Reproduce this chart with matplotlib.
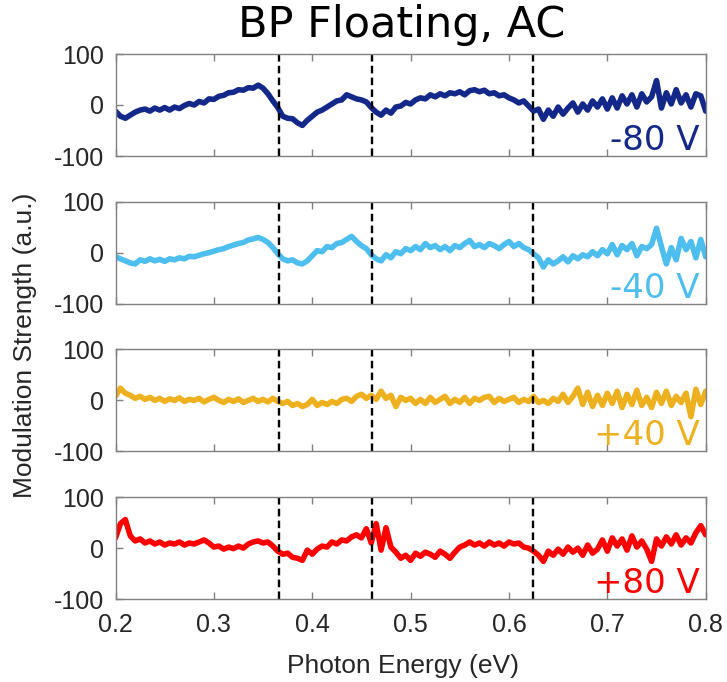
import numpy as np
import matplotlib.pyplot as plt

plt.rcParams["axes.unicode_minus"] = False

# =========================
# data (step 0.005 eV)
# =========================
energy = np.round(np.arange(0.2, 0.8001, 0.005), 3)

v_m80 = [-12, -22, -26, -20, -14, -10, -8, -12, -6, -10,
         -5, -10, -4, -7, -1, 3, 0, 7, 4, 12,
         11, 17, 19, 24, 25, 30, 29, 34, 33, 39,
         33, 22, 8, -5, -22, -26, -27, -35, -40, -30,
         -22, -14, -10, -4, 2, 8, 10, 20, 16, 12,
         10, 6, -5, -14, -20, -10, -16, -4, -2, 5,
         2, 10, 14, 12, 20, 16, 22, 18, 24, 22,
         26, 20, 28, 30, 26, 29, 22, 24, 18, 20,
         14, 10, 4, 8, -2, -12, -8, -28, -10, -22,
         -4, -18, -6, 4, -14, 2, -10, 8, -4, 12,
         -8, 14, -6, 18, 2, 20, -4, 22, 6, 16,
         48, -6, 24, 2, 30, 4, 20, -4, 22, 18,
         -12]

v_m40 = [-8, -12, -16, -20, -22, -14, -17, -12, -16, -13,
         -17, -12, -14, -10, -12, -7, -8, -5, -2, 0,
         3, 6, 8, 12, 15, 18, 20, 25, 27, 30,
         26, 20, 10, -2, -12, -16, -14, -20, -22, -16,
         -6, 4, 2, 12, 10, 18, 20, 26, 32, 22,
         14, 8, -4, -12, -16, -4, -10, 2, -2, 8,
         4, 12, 6, 18, 10, 14, 6, 12, 4, 14,
         10, 18, 24, 12, 16, 10, 18, 14, 8, 16,
         22, 12, 18, 10, 6, -2, -10, -28, -14, -22,
         -16, -8, -18, -6, -12, -4, -8, 2, -6, 6,
         -2, 16, -4, 14, 6, 18, -6, 12, 8, 16,
         48, 12, -22, 10, -14, 28, 6, 22, -10, 26,
         -8]

v_p40 = [8, 24, 14, 10, 4, 8, 2, 6, 0, 4,
         -2, 3, 0, 5, -2, 2, 0, 4, -3, 2,
         6, 0, -4, 2, -2, 3, -4, 0, 4, -2,
         2, -3, 4, -2, -6, -2, -10, -6, -12, -8,
         2, -10, -4, -8, -2, -6, 2, 4, -2, 8,
         12, 4, 10, 2, 18, 4, 10, -12, 6, 0,
         4, -6, 2, -6, 6, -4, 2, 8, -6, 2,
         -4, 6, -6, 4, 0, 6, 8, -4, 4, -2,
         2, 6, -4, 2, -2, 8, -4, 0, -6, 4,
         -2, 12, -4, 8, 24, -8, 16, -12, 10, -10,
         14, -6, 18, -14, 12, -8, 20, -10, 6, -14,
         16, -6, 18, -10, 8, -4, 14, -32, 22, -8,
         18]

v_p80 = [20, 48, 56, 24, 14, 18, 10, 14, 8, 12,
         6, 10, 8, 12, 6, 10, 8, 12, 16, 10,
         2, 4, -2, 2, -1, 4, 0, 8, 12, 14,
         10, 12, 4, -6, -12, -10, -18, -20, -24, -4,
         -12, -2, 4, 2, 12, 8, 16, 14, 22, 26,
         20, 38, 10, 48, -4, 40, 2, -8, -20, -14,
         -24, -10, -16, -8, -12, -18, -6, -12, -20, -8,
         2, 6, 12, 6, 10, 4, 12, 6, 10, 4,
         12, 8, 10, 2, 0, -6, -14, -26, -6, -14,
         -2, -12, 2, -8, 0, -14, 6, -10, -2, 16,
         -6, 20, 4, 18, -4, 24, 2, 14, -2, -26,
         18, 4, 22, 8, 26, 6, 20, 10, 30, 44,
         26]

series = [v_m80, v_m40, v_p40, v_p80]
labels = ["-80 V", "-40 V", "+40 V", "+80 V"]
colors = ["#14288A", "#4DBEEE", "#EDB120", "#FF0000"]
dashed_x = [0.366, 0.461, 0.624]

# =========================
# figure
# =========================
W, H = 727, 682
fig = plt.figure(figsize=(W / 100, H / 100), dpi=100)

tick_font = "Liberation Sans"
gray = "#808080"

left = 115.5 / W
width = (705.7 - 115.5) / W

for i in range(4):
    top = 54 + 147.7 * i
    ax = fig.add_axes([left, 1 - (top + 102) / H, width, 102 / H])

    ax.plot(energy, series[i], color=colors[i], lw=4.0,
            solid_joinstyle="round", solid_capstyle="round")

    for xv in dashed_x:
        ax.axvline(xv, color="black", ls=(0, (3.2, 1.8)), lw=1.7)

    ax.set_xlim(0.2, 0.8)
    ax.set_ylim(-100, 100)
    ax.set_yticks([-100, 0, 100])
    ax.set_xticks(np.arange(0.2, 0.81, 0.1))

    for s in ax.spines.values():
        s.set_color(gray)
        s.set_linewidth(1.0)

    ax.tick_params(direction="in", length=5, color=gray, width=1,
                   top=True, right=False, labelsize=18, pad=8)
    ax.tick_params(axis="x", pad=10)
    for lab in ax.get_xticklabels() + ax.get_yticklabels():
        lab.set_family(tick_font)
        lab.set_color("#262626")

    if i < 3:
        ax.tick_params(labelbottom=False)
    else:
        ax.set_xticklabels(["0.2", "0.3", "0.4", "0.5", "0.6", "0.7", "0.8"])

    ax.text(0.99, 0.06, labels[i], transform=ax.transAxes, ha="right",
            va="baseline", fontsize=24.5, color=colors[i],
            family="DejaVu Sans")

fig.text(0.552, 0.946, "BP Floating, AC", ha="center", va="baseline",
         fontsize=31, family="DejaVu Sans")
fig.text(0.555, 0.013, "Photon Energy (eV)", ha="center", va="baseline",
         fontsize=19, family=tick_font, color="#262626")
fig.text(0.034, 0.494, "Modulation Strength (a.u.)", ha="center",
         va="center", rotation=90, fontsize=19, family=tick_font,
         color="#262626")

plt.savefig("out.png", dpi=100)
